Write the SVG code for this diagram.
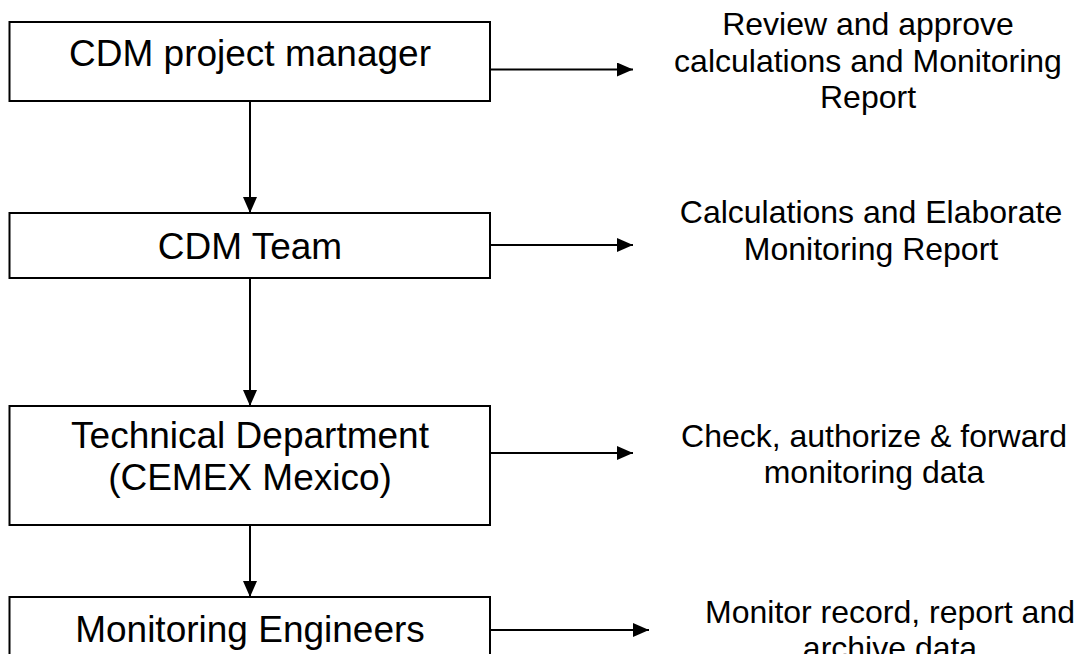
<svg xmlns="http://www.w3.org/2000/svg" width="1078" height="654" viewBox="0 0 1078 654">
<style>
.box{fill:#fff;stroke:#000;stroke-width:2}
.bt{font-family:"Liberation Sans",Arial,sans-serif;font-size:37px;text-anchor:middle;fill:#000}
.rt{font-family:"Liberation Sans",Arial,sans-serif;font-size:32px;text-anchor:middle;fill:#000}
.ln{stroke:#000;stroke-width:2;fill:none}
</style>
<defs>
<marker id="ah" markerWidth="16" markerHeight="14" refX="16" refY="7" orient="auto" markerUnits="userSpaceOnUse">
<path d="M0,0 L16,7 L0,14 Z" fill="#000"/>
</marker>
</defs>
<rect width="1078" height="654" fill="#fff"/>
<g id="connectors">
<line class="ln" x1="250" y1="101" x2="250" y2="213" marker-end="url(#ah)"/>
<line class="ln" x1="250" y1="278" x2="250" y2="406" marker-end="url(#ah)"/>
<line class="ln" x1="250" y1="525" x2="250" y2="597" marker-end="url(#ah)"/>
<line class="ln" x1="490" y1="69.5" x2="633" y2="69.5" marker-end="url(#ah)"/>
<line class="ln" x1="490" y1="245" x2="633" y2="245" marker-end="url(#ah)"/>
<line class="ln" x1="490" y1="453" x2="633" y2="453" marker-end="url(#ah)"/>
<line class="ln" x1="490" y1="630" x2="649" y2="630" marker-end="url(#ah)"/>
</g>
<g id="n1">
<rect class="box" x="9.5" y="22" width="480.5" height="79"/>
<text class="bt" x="250" y="66">CDM project manager</text>
</g>
<g id="n2">
<rect class="box" x="9.5" y="213" width="480.5" height="65"/>
<text class="bt" x="250" y="259">CDM Team</text>
</g>
<g id="n3">
<rect class="box" x="9.5" y="406" width="480.5" height="119"/>
<text class="bt" x="250" y="448">Technical Department</text>
<text class="bt" x="250" y="490">(CEMEX Mexico)</text>
</g>
<g id="n4">
<rect class="box" x="9.5" y="597" width="480.5" height="70"/>
<text class="bt" x="250" y="642">Monitoring Engineers</text>
</g>
<g id="labels">
<text class="rt" x="868" y="35">Review and approve</text>
<text class="rt" x="868" y="71.5">calculations and Monitoring</text>
<text class="rt" x="868" y="108">Report</text>
<text class="rt" x="871" y="223">Calculations and Elaborate</text>
<text class="rt" x="871" y="259.5">Monitoring Report</text>
<text class="rt" x="874" y="447">Check, authorize &amp; forward</text>
<text class="rt" x="874" y="483">monitoring data</text>
<text class="rt" x="890" y="623">Monitor record, report and</text>
<text class="rt" x="890" y="659">archive data</text>
</g>
</svg>
